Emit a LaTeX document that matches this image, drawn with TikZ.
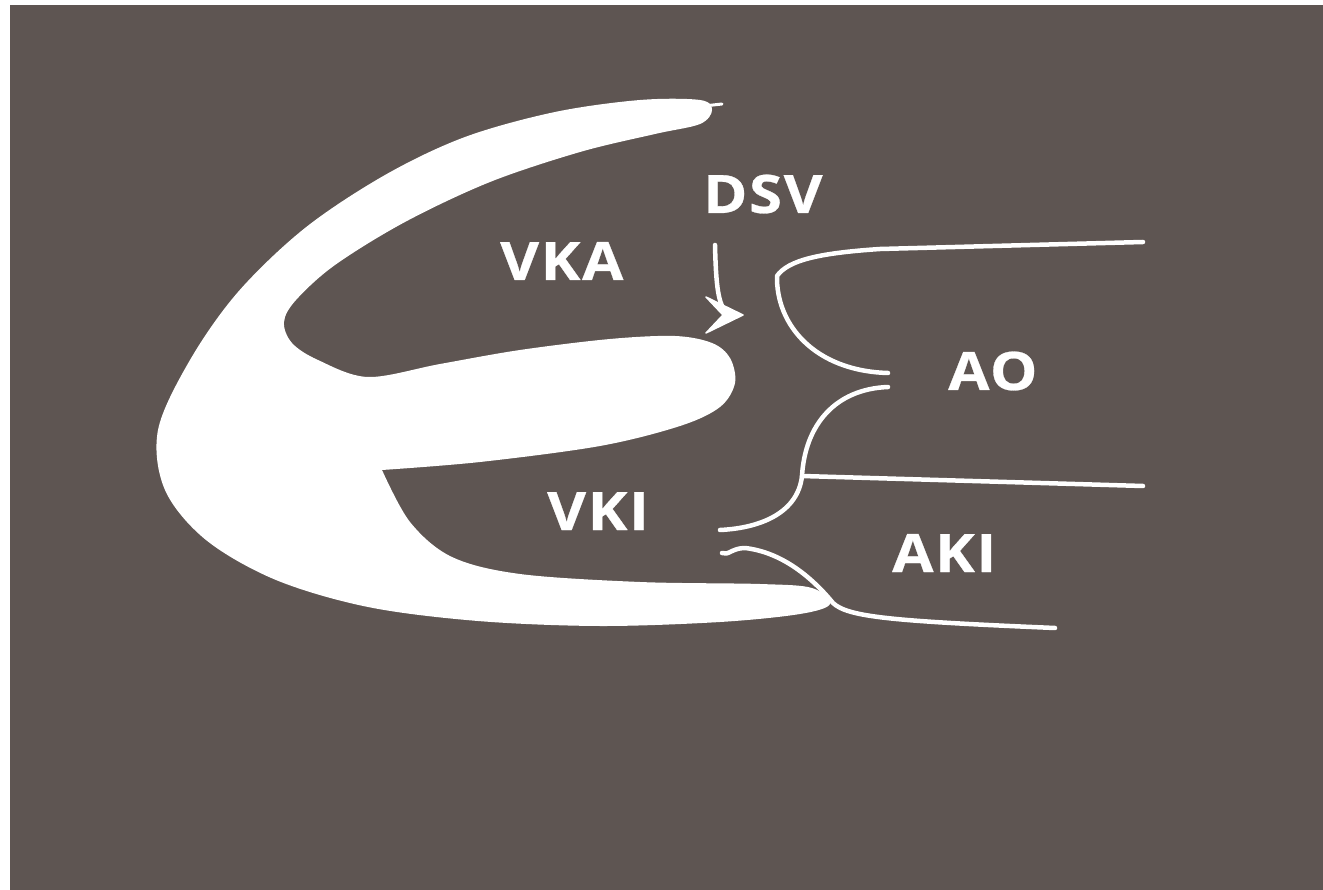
\documentclass[tikz,border=0pt]{standalone}
\usepackage{fontspec}
\setmainfont{Open Sans}
\newfontfamily\tagfont{Open Sans}[FakeStretch=1.13, LetterSpace=3, FakeBold=0.5]
\definecolor{board}{RGB}{94,85,82}
\begin{document}
\begin{tikzpicture}[x=1pt,y=-1pt,
  tag/.style={text=white, font=\tagfont\fontsize{53}{60}\selectfont\bfseries, inner sep=0pt, anchor=base west},
  vessel/.style={draw=white, line width=4.5pt, line cap=round, line join=round}]
\useasboundingbox (0,0) rectangle (1323,890);
% paper and dark board
\fill[white] (0,0) rectangle (1323,890);
\fill[board] (10,5) rectangle (1323,890);

% ventricular silhouette (three prongs)
\fill[white] plot[smooth, tension=0.55] coordinates {
  (382,470) (480,462) (600,446) (680,426) (720,407) (735,383) (730,358) (712,343)
  (675,336) (610,339) (520,350) (440,364) (368,377) (318,360) (292,343) (284,322)
  (296,300) (335,265) (405,222) (490,182) (580,152) (655,134) (700,124) (712,110)
  (700,100) (640,100) (555,112) (465,137) (385,175) (305,228) (238,292) (190,360)
  (158,430) (165,490) (206,540) (276,580) (368,607) (478,621) (600,626) (720,622)
  (800,614) (830,604) (812,588) (760,584) (640,582) (520,574) (452,557) (410,522)
  (382,470)} -- cycle;
\draw[vessel, line width=3pt] (704,106) -- (722,104);

% aortic outline
\coordinate (aoTopEnd) at (1143,242);
\coordinate (aoCorner) at (777,276);
\coordinate (aoCuspA) at (888,373);
\coordinate (aoCuspB) at (888,387);
\coordinate (junction) at (802,476);
\coordinate (aoBotEnd) at (1143,486);
\coordinate (vkiEnd) at (720,530);
\coordinate (akiStart) at (722,553);
\coordinate (prongTip) at (833,603);
\coordinate (akiEnd) at (1055,628);

\draw[vessel] (aoTopEnd) -- (880,249) .. controls (820,253) and (788,260) .. (aoCorner)
  .. controls (776,325) and (815,371) .. (aoCuspA);
\draw[vessel] (aoCuspB) .. controls (835,389) and (805,425) .. (junction);
\draw[vessel] (junction) -- (aoBotEnd);
\draw[vessel] (junction) .. controls (798,512) and (762,528) .. (vkiEnd);
\draw[vessel] (akiStart) .. controls (728,556) and (732,548) .. (745,548)
  .. controls (780,552) and (810,575) .. (prongTip)
  .. controls (848,617) and (890,621) .. (akiEnd);

% labels
\node[tag] (vka) at (500,280) {VKA};
\node[tag] (dsv) at (703,213) {DSV};
\node[tag] (vki) at (547,530) {VKI};
\node[tag] (ao) at (948,390) {AO};
\node[tag] (aki) at (892,572) {AKI};

% pointer to the defect: curved shaft ending in a chevron head
\coordinate (dsvTail) at (715,245);
\coordinate (shaftEnd) at (727,313);
\coordinate (dsvTip) at (743,315);
\draw[vessel] (dsvTail) .. controls (716,285) and (718,305) .. (shaftEnd);
\filldraw[white, line width=1.5pt, line join=round]
  (dsvTip) -- (706,297) -- (723,315) -- (706,333) -- cycle;
\end{tikzpicture}
\end{document}
